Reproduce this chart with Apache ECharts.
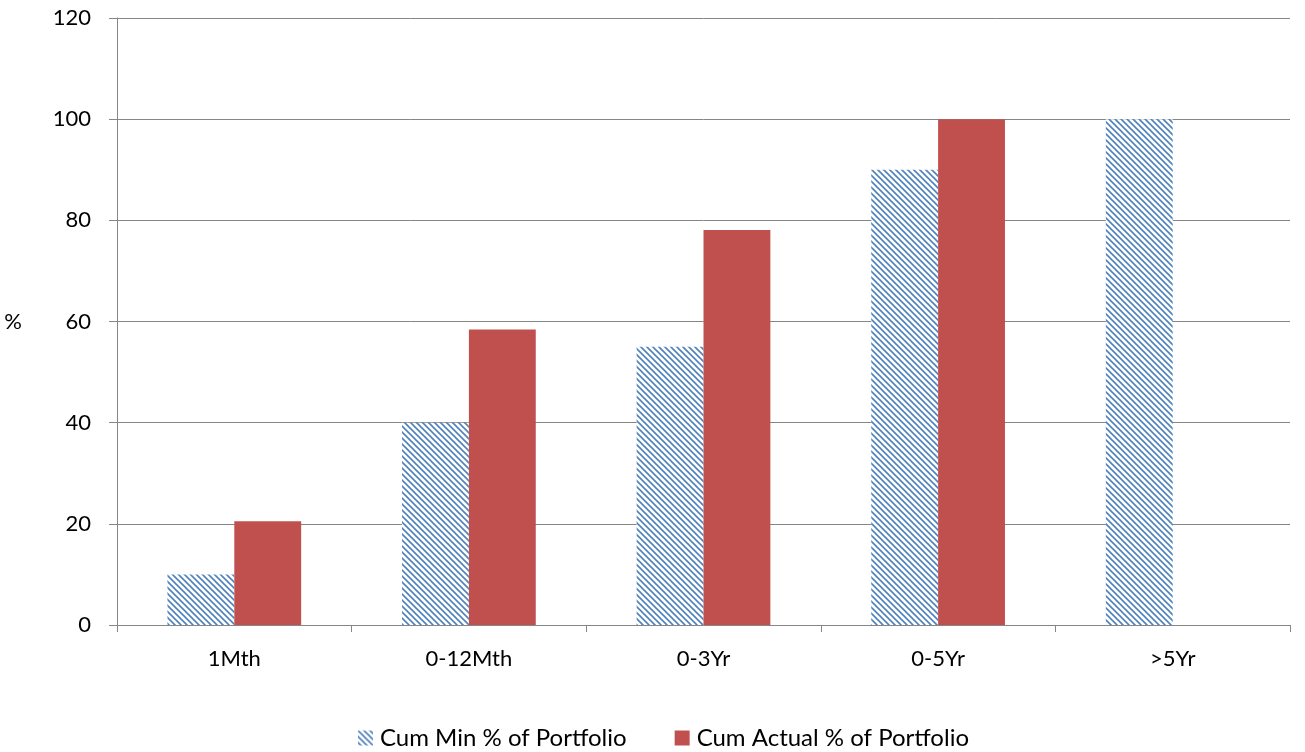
<!DOCTYPE html>
<html>
<head>
<meta charset="utf-8">
<script src="https://cdn.jsdelivr.net/npm/echarts@6/dist/echarts.min.js"></script>
<style>
  html, body { margin: 0; padding: 0; background: #fff; }
  #chart { width: 1305px; height: 752px; }
</style>
</head>
<body>
<div id="chart"></div>
<script>
var categories = ["1Mth", "0-12Mth", "0-3Yr", "0-5Yr", ">5Yr"];
var cumMin = [10, 40, 55, 90, 100];
var cumActual = [20.5, 58.4, 78.1, 100, null];
var yTicks = [0, 20, 40, 60, 80, 100, 120];

// diagonal hatch like the Excel pattern fill
function hatch() {
  var c = document.createElement("canvas");
  c.width = 6;
  c.height = 6;
  var ctx = c.getContext("2d");
  ctx.fillStyle = "#ffffff";
  ctx.fillRect(0, 0, 6, 6);
  ctx.strokeStyle = "#4f81bd";
  ctx.lineWidth = 1.6;
  ctx.beginPath();
  ctx.moveTo(0, 0); ctx.lineTo(6, 6);
  ctx.moveTo(-3, 3); ctx.lineTo(3, 9);
  ctx.moveTo(3, -3); ctx.lineTo(9, 3);
  ctx.stroke();
  return c;
}

var chart = echarts.init(document.getElementById("chart"));
var font = "Lato, 'Open Sans', sans-serif";
var fs = 22;
var option = {
  animation: false,
  textStyle: { fontFamily: font },
  grid: { left: 117, right: 15, top: 18, bottom: 127 },
  legend: {
    top: 721,
    left: 353,
    itemWidth: 15,
    itemHeight: 15,
    itemGap: 48,
    icon: "rect",
    textStyle: { fontSize: 24, color: "#000", fontFamily: font, padding: [0, 0, 0, 2] }
  },
  xAxis: {
    type: "category",
    data: categories,
    axisLine: { lineStyle: { color: "#868686", width: 1 } },
    axisTick: { show: true, length: 7, alignWithLabel: false, lineStyle: { color: "#868686" } },
    axisLabel: { fontSize: fs, color: "#000", margin: 23 }
  },
  yAxis: {
    type: "value",
    min: yTicks[0],
    max: yTicks[yTicks.length - 1],
    interval: 20,
    name: "%",
    nameLocation: "middle",
    nameRotate: 0,
    nameGap: 95,
    nameTextStyle: { fontSize: fs, color: "#000" },
    axisLine: { show: true, lineStyle: { color: "#868686" } },
    axisTick: { show: true, length: 8, lineStyle: { color: "#868686" } },
    axisLabel: { fontSize: fs, color: "#000", margin: 26 },
    splitLine: { lineStyle: { color: "#868686", width: 1 } }
  },
  series: [
    {
      name: "Cum Min % of Portfolio",
      type: "bar",
      data: cumMin,
      barGap: "0%",
      barCategoryGap: "43%",
      itemStyle: { color: { image: hatch(), repeat: "repeat" } }
    },
    {
      name: "Cum Actual % of Portfolio",
      type: "bar",
      data: cumActual,
      barGap: "0%",
      barCategoryGap: "43%",
      itemStyle: { color: "#c0504d" }
    }
  ]
};
chart.setOption(option);
</script>
</body>
</html>
